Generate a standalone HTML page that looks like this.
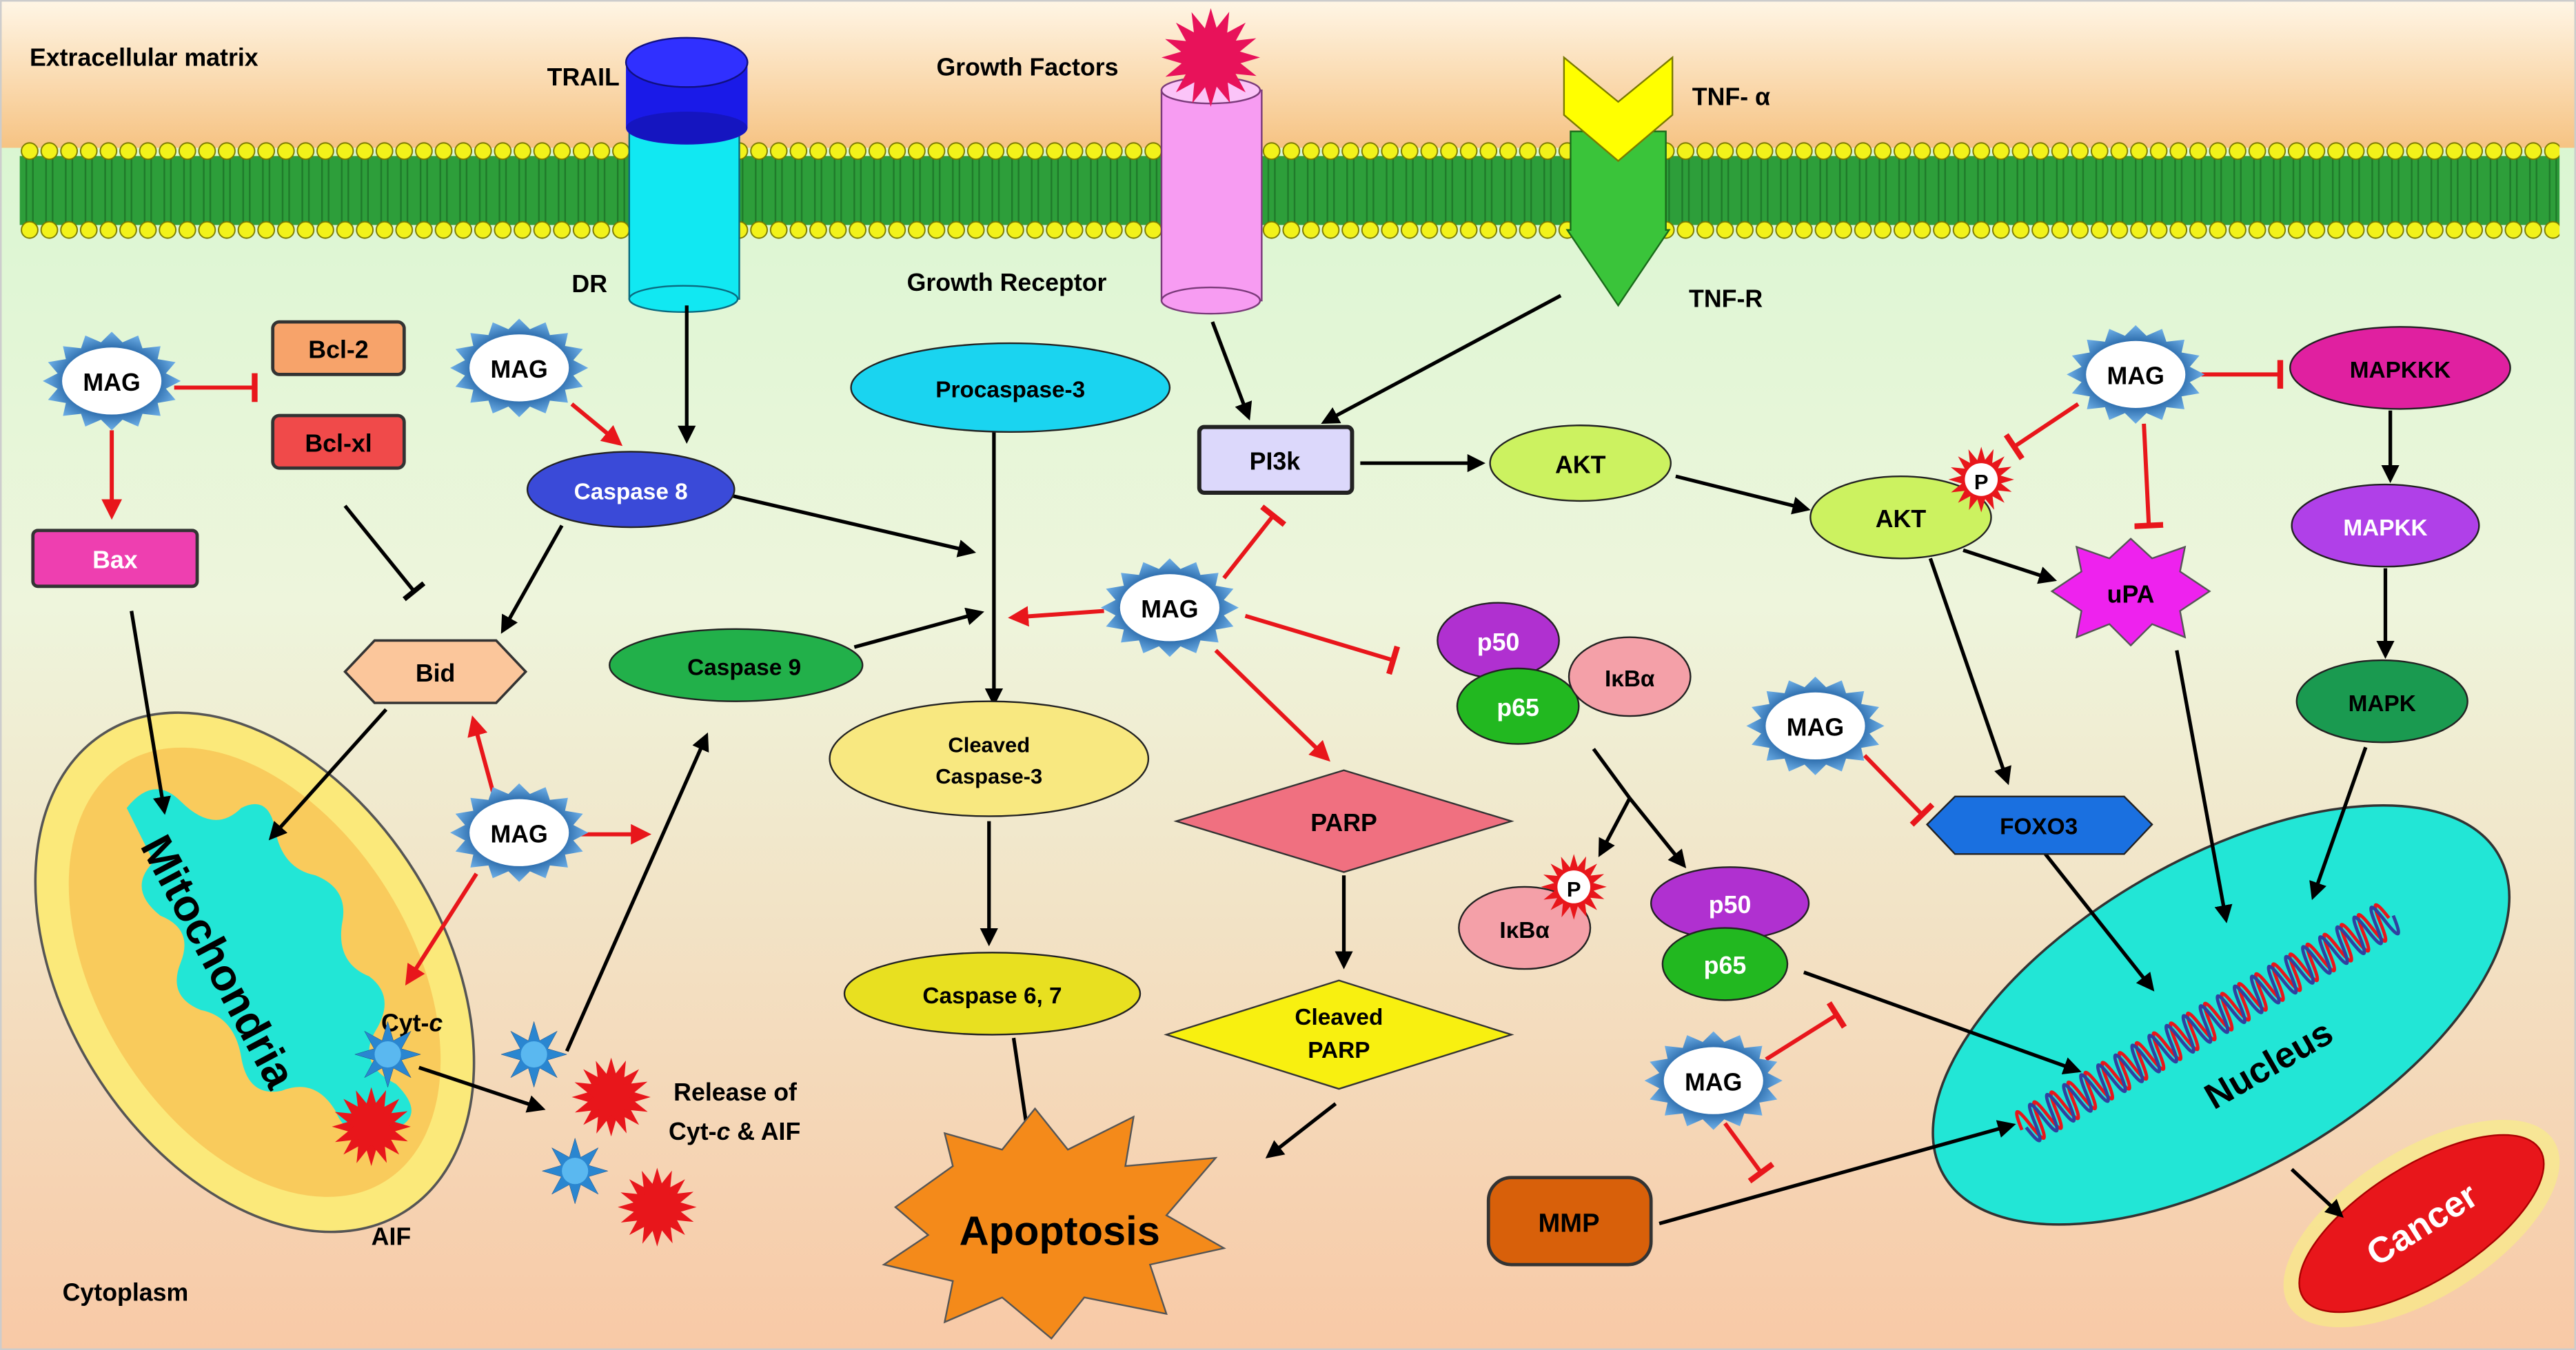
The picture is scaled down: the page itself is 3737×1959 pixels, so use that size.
<!DOCTYPE html>
<html><head><meta charset="utf-8"><style>
html,body{margin:0;padding:0;background:#fff}
svg{display:block}
text{font-family:"Liberation Sans",sans-serif;font-weight:bold}
</style></head><body>
<svg width="3737" height="1959" viewBox="0 0 1568 822" xmlns="http://www.w3.org/2000/svg">
<defs>
<linearGradient id="top" x1="0" y1="0" x2="0" y2="1"><stop offset="0" stop-color="#fff6e6"/><stop offset="1" stop-color="#f6c383"/></linearGradient>
<linearGradient id="cyto" x1="0" y1="0" x2="0" y2="1"><stop offset="0" stop-color="#d4f7cf"/><stop offset="0.45" stop-color="#eef5dc"/><stop offset="1" stop-color="#f8c9a6"/></linearGradient>
<pattern id="lip" x="0" y="86" width="12" height="60" patternUnits="userSpaceOnUse"><rect x="0" y="9" width="12" height="42" fill="#2d9e3a"/><line x1="4" y1="9" x2="4" y2="51" stroke="#1f7a2a" stroke-width="1"/><line x1="8" y1="9" x2="8" y2="51" stroke="#1f7a2a" stroke-width="1"/><circle cx="6" cy="6" r="5" fill="#f2f21a" stroke="#7a7a00" stroke-width="0.8"/><circle cx="6" cy="54" r="5" fill="#f2f21a" stroke="#7a7a00" stroke-width="0.8"/></pattern>
<radialGradient id="magg"><stop offset="0.6" stop-color="#1f5fa0"/><stop offset="1" stop-color="#6fb0e8"/></radialGradient>
<marker id="ab" viewBox="0 0 10 10" refX="8" refY="5" markerWidth="5" markerHeight="5" orient="auto"><path d="M0,0L10,5L0,10z" fill="#000"/></marker>
<marker id="ar" viewBox="0 0 10 10" refX="8" refY="5" markerWidth="5" markerHeight="5" orient="auto"><path d="M0,0L10,5L0,10z" fill="#e8161b"/></marker>
<marker id="tr" viewBox="0 0 4 20" refX="2" refY="10" markerWidth="2" markerHeight="7" orient="auto"><rect x="0" y="0" width="4" height="20" fill="#e8161b"/></marker>
<marker id="tb" viewBox="0 0 4 20" refX="2" refY="10" markerWidth="2" markerHeight="7" orient="auto"><rect x="0" y="0" width="4" height="20" fill="#000"/></marker>
<g id="star"><polygon fill="url(#magg)" points="100,0 78.5,15.6 92.4,38.3 66.5,44.5 70.7,70.7 44.5,66.5 38.3,92.4 15.6,78.5 0,100 -15.6,78.5 -38.3,92.4 -44.5,66.5 -70.7,70.7 -66.5,44.5 -92.4,38.3 -78.5,15.6 -100,0 -78.5,-15.6 -92.4,-38.3 -66.5,-44.5 -70.7,-70.7 -44.5,-66.5 -38.3,-92.4 -15.6,-78.5 0,-100 15.6,-78.5 38.3,-92.4 44.5,-66.5 70.7,-70.7 66.5,-44.5 92.4,-38.3 78.5,-15.6"/><ellipse cx="0" cy="0" rx="72" ry="68" fill="#fff"/></g>
<g id="s8"><polygon points="100,0 41.6,17.2 70.7,70.7 17.2,41.6 0,100 -17.2,41.6 -70.7,70.7 -41.6,17.2 -100,0 -41.6,-17.2 -70.7,-70.7 -17.2,-41.6 0,-100 17.2,-41.6 70.7,-70.7 41.6,-17.2"/></g>
</defs>
<rect width="1568" height="822" fill="url(#cyto)"/>
<rect width="1568" height="90" fill="url(#top)"/>
<rect x="12" y="86" width="1546" height="60" fill="url(#lip)"/>
<rect x="0.5" y="0.5" width="1567" height="821" fill="none" stroke="#ccc"/>
<text x="18" y="40" font-size="15">Extracellular matrix</text>
<text x="38" y="792" font-size="15">Cytoplasm</text>

<!-- receptors -->
<rect x="383" y="60" width="67" height="122" fill="#11e8f2" stroke="#0a6b80"/><ellipse cx="416" cy="182" rx="33" ry="8" fill="#11e8f2" stroke="#0a6b80"/>
<rect x="381" y="38" width="74" height="40" fill="#1a1ae8"/><ellipse cx="418" cy="78" rx="37" ry="10" fill="#1515c0"/><ellipse cx="418" cy="38" rx="37" ry="15" fill="#3030ff" stroke="#101080"/>
<text x="333" y="52" font-size="15">TRAIL</text><text x="348" y="178" font-size="15">DR</text>
<rect x="707" y="55" width="61" height="128" fill="#f79cf2" stroke="#7a3a7a"/><ellipse cx="737" cy="183" rx="30" ry="8" fill="#f79cf2" stroke="#7a3a7a"/><ellipse cx="737" cy="55" rx="30" ry="8" fill="#fbc4f8" stroke="#7a3a7a"/>
<use href="#s8" transform="translate(737,35) scale(0.3)" fill="#e8125a"/>
<use href="#s8" transform="translate(737,35) rotate(22) scale(0.3)" fill="#e8125a"/>
<text x="570" y="46" font-size="15">Growth Factors</text><text x="552" y="177" font-size="15">Growth Receptor</text>
<polygon points="956,80 1014,80 1014,140 1016,140 985,186 954,140 956,140" fill="#3ac43a" stroke="#1a6a1a"/>
<polygon points="952,35 985,62 1018,35 1018,70 985,98 952,70" fill="#ffff00" stroke="#7a7a00"/>
<text x="1030" y="64" font-size="15">TNF- α</text><text x="1028" y="187" font-size="15">TNF-R</text>

<!-- mitochondria -->
<ellipse cx="155" cy="592" rx="115" ry="172" transform="rotate(-32 155 592)" fill="#fbe97a" stroke="#555" stroke-width="1.5"/>
<ellipse cx="155" cy="592" rx="95" ry="150" transform="rotate(-32 155 592)" fill="#f8b848" opacity="0.6"/>
<g transform="translate(155,592) scale(0.82) translate(-155,-592)">
<path d="M60,470 q20,-25 40,-5 q25,25 45,5 q20,-10 25,15 q5,30 30,35 q25,10 20,35 q-5,30 20,40 q20,15 5,40 q-15,25 15,40 q25,25 -5,35 q-30,10 -40,-15 q-15,-25 -40,-15 q-25,5 -30,-25 q-5,-30 -30,-35 q-25,-10 -15,-35 q10,-25 -15,-35 q-25,-20 -5,-40 z" fill="#22e6d6"/>
</g>
<text x="0" y="0" font-size="27" transform="translate(85,515) rotate(62)">Mitochondria</text>

<!-- nucleus -->
<g transform="translate(1352,618) rotate(-30)">
<ellipse cx="0" cy="0" rx="195" ry="95" fill="#22e6d6" stroke="#333" stroke-width="1.5"/>
<path d="M-140 0 q3 -22 6 0 t6 0 t6 0 t6 0 t6 0 t6 0 t6 0 t6 0 t6 0 t6 0 t6 0 t6 0 t6 0 t6 0 t6 0 t6 0 t6 0 t6 0 t6 0 t6 0 t6 0 t6 0 t6 0 t6 0 t6 0 t6 0 t6 0 t6 0 t6 0 t6 0 t6 0 t6 0 t6 0 t6 0 t6 0 t6 0 t6 0 t6 0 t6 0 t6 0 t6 0 t6 0 t6 0" fill="none" stroke="#e8161b" stroke-width="2"/>
<path d="M-137 0 q3 22 6 0 t6 0 t6 0 t6 0 t6 0 t6 0 t6 0 t6 0 t6 0 t6 0 t6 0 t6 0 t6 0 t6 0 t6 0 t6 0 t6 0 t6 0 t6 0 t6 0 t6 0 t6 0 t6 0 t6 0 t6 0 t6 0 t6 0 t6 0 t6 0 t6 0 t6 0 t6 0 t6 0 t6 0 t6 0 t6 0 t6 0 t6 0 t6 0 t6 0 t6 0 t6 0 t6 0" fill="none" stroke="#3040a0" stroke-width="2"/>
<text x="10" y="48" font-size="22" text-anchor="middle">Nucleus</text>
</g>
<g transform="translate(1474,745) rotate(-32)">
<ellipse cx="0" cy="0" rx="95" ry="45" fill="#f8f080" opacity="0.6"/>
<ellipse cx="0" cy="0" rx="85" ry="35" fill="#e8161b" stroke="#a00"/>
<text x="0" y="8" font-size="22" text-anchor="middle" fill="#fff">Cancer</text>
</g>

<!-- connectors black -->
<g stroke="#000" stroke-width="2.2" fill="none" marker-end="url(#ab)">
<line x1="418" y1="186" x2="418" y2="268"/>
<line x1="342" y1="320" x2="306" y2="384"/>
<line x1="446" y1="302" x2="592" y2="336"/>
<line x1="520" y1="394" x2="597" y2="373"/>
<line x1="605" y1="262" x2="605" y2="428"/>
<line x1="602" y1="500" x2="602" y2="574"/>
<line x1="617" y1="632" x2="627" y2="700"/>
<line x1="813" y1="672" x2="772" y2="704"/>
<line x1="818" y1="533" x2="818" y2="588"/>
<line x1="80" y1="372" x2="100" y2="494"/>
<line x1="235" y1="432" x2="165" y2="510"/>
<line x1="255" y1="650" x2="330" y2="675"/>
<line x1="345" y1="640" x2="430" y2="448"/>
<line x1="738" y1="196" x2="760" y2="254"/>
<line x1="950" y1="180" x2="806" y2="257"/>
<line x1="828" y1="282" x2="902" y2="282"/>
<line x1="1020" y1="290" x2="1100" y2="310"/>
<line x1="1195" y1="335" x2="1250" y2="353"/>
<line x1="1175" y1="340" x2="1222" y2="476"/>
<line x1="1455" y1="250" x2="1455" y2="292"/>
<line x1="1452" y1="346" x2="1452" y2="399"/>
<line x1="1440" y1="455" x2="1408" y2="546"/>
<line x1="1325" y1="396" x2="1355" y2="560"/>
<line x1="1245" y1="520" x2="1310" y2="602"/>
<line x1="992" y1="486" x2="974" y2="520"/>
<line x1="992" y1="486" x2="1025" y2="527"/>
<line x1="1098" y1="592" x2="1265" y2="652"/>
<line x1="1010" y1="745" x2="1225" y2="685"/>
<line x1="1395" y1="712" x2="1425" y2="740"/>
</g>
<line x1="970" y1="456" x2="992" y2="486" stroke="#000" stroke-width="2.2"/>
<line x1="210" y1="308" x2="252" y2="360" stroke="#000" stroke-width="2.2" marker-end="url(#tb)"/>

<!-- red connectors -->
<g stroke="#e8161b" stroke-width="2.5" fill="none">
<line x1="68" y1="262" x2="68" y2="314" marker-end="url(#ar)"/>
<line x1="106" y1="236" x2="155" y2="236" marker-end="url(#tr)"/>
<line x1="348" y1="246" x2="377" y2="270" marker-end="url(#ar)"/>
<line x1="672" y1="372" x2="616" y2="376" marker-end="url(#ar)"/>
<line x1="745" y1="352" x2="775" y2="314" marker-end="url(#tr)"/>
<line x1="758" y1="375" x2="848" y2="402" marker-end="url(#tr)"/>
<line x1="740" y1="396" x2="808" y2="462" marker-end="url(#ar)"/>
<line x1="300" y1="482" x2="288" y2="438" marker-end="url(#ar)"/>
<line x1="352" y1="508" x2="394" y2="508" marker-end="url(#ar)"/>
<line x1="290" y1="532" x2="248" y2="598" marker-end="url(#ar)"/>
<line x1="1265" y1="246" x2="1226" y2="272" marker-end="url(#tr)"/>
<line x1="1305" y1="258" x2="1308" y2="320" marker-end="url(#tr)"/>
<line x1="1340" y1="228" x2="1388" y2="228" marker-end="url(#tr)"/>
<line x1="1135" y1="460" x2="1170" y2="496" marker-end="url(#tr)"/>
<line x1="1075" y1="645" x2="1118" y2="618" marker-end="url(#tr)"/>
<line x1="1050" y1="684" x2="1072" y2="714" marker-end="url(#tr)"/>
</g>

<text x="232" y="628" font-size="15">Cyt-<tspan font-style="italic">c</tspan></text>
<text x="226" y="758" font-size="15">AIF</text>
<text x="410" y="670" font-size="15">Release of</text>
<text x="407" y="694" font-size="15">Cyt-<tspan font-style="italic">c</tspan> &amp; AIF</text>
<g fill="#2a86d0" stroke="#1a4a80"><use href="#s8" transform="translate(236,642) scale(0.2)"/><use href="#s8" transform="translate(325,642) scale(0.2)"/><use href="#s8" transform="translate(350,713) scale(0.2)"/></g>
<g fill="#5ab8f0"><circle cx="236" cy="642" r="8"/><circle cx="325" cy="642" r="8"/><circle cx="350" cy="713" r="8"/></g>
<g fill="#e8161b"><use href="#s8" transform="translate(226,686) scale(0.24)"/><use href="#s8" transform="translate(226,686) rotate(22) scale(0.24)"/><use href="#s8" transform="translate(372,668) scale(0.24)"/><use href="#s8" transform="translate(372,668) rotate(22) scale(0.24)"/><use href="#s8" transform="translate(400,735) scale(0.24)"/><use href="#s8" transform="translate(400,735) rotate(22) scale(0.24)"/></g>

<!-- boxes -->
<rect x="166" y="196" width="80" height="32" rx="4" fill="#f7a36a" stroke="#333" stroke-width="2"/><text x="206" y="218" font-size="15" text-anchor="middle">Bcl-2</text>
<rect x="166" y="253" width="80" height="32" rx="4" fill="#f04a4a" stroke="#333" stroke-width="2"/><text x="206" y="275" font-size="15" text-anchor="middle">Bcl-xl</text>
<rect x="20" y="323" width="100" height="34" rx="3" fill="#ee3fb0" stroke="#333" stroke-width="2"/><text x="70" y="346" font-size="15" text-anchor="middle" fill="#fff">Bax</text>
<polygon points="210,409 228,390 302,390 320,409 302,428 228,428" fill="#fbc69b" stroke="#333" stroke-width="1.5"/><text x="265" y="415" font-size="15" text-anchor="middle">Bid</text>
<ellipse cx="384" cy="298" rx="63" ry="23" fill="#3a4ad8" stroke="#222"/><text x="384" y="304" font-size="14" text-anchor="middle" fill="#fff">Caspase 8</text>
<ellipse cx="448" cy="405" rx="77" ry="22" fill="#22b04a" stroke="#222"/><text x="453" y="411" font-size="14" text-anchor="middle">Caspase 9</text>
<ellipse cx="615" cy="236" rx="97" ry="27" fill="#1ad4f0" stroke="#222"/><text x="615" y="242" font-size="14" text-anchor="middle">Procaspase-3</text>
<ellipse cx="602" cy="462" rx="97" ry="35" fill="#f8e880" stroke="#222"/><text x="602" y="458" font-size="13" text-anchor="middle">Cleaved</text><text x="602" y="477" font-size="13" text-anchor="middle">Caspase-3</text>
<ellipse cx="604" cy="605" rx="90" ry="25" fill="#e8e020" stroke="#222"/><text x="604" y="611" font-size="14" text-anchor="middle">Caspase 6, 7</text>
<polygon points="545,735 580,710 575,690 610,700 630,675 650,700 690,680 685,710 740,705 710,740 745,760 700,770 710,800 660,790 640,815 610,790 575,805 580,780 538,770 565,752" fill="#f48a1a" stroke="#555"/>
<text x="645" y="758" font-size="25" text-anchor="middle">Apoptosis</text>
<rect x="730" y="260" width="93" height="40" rx="3" fill="#dcd8fb" stroke="#222" stroke-width="2.5"/><text x="776" y="286" font-size="15" text-anchor="middle">PI3k</text>
<ellipse cx="962" cy="282" rx="55" ry="23" fill="#ccf260" stroke="#222"/><text x="962" y="288" font-size="15" text-anchor="middle">AKT</text>
<ellipse cx="1157" cy="315" rx="55" ry="25" fill="#ccf260" stroke="#222"/><text x="1157" y="321" font-size="15" text-anchor="middle">AKT</text>
<use href="#s8" transform="translate(1206,292) scale(0.2)" fill="#e8161b"/><use href="#s8" transform="translate(1206,292) rotate(22) scale(0.2)" fill="#e8161b"/><circle cx="1206" cy="292" r="10" fill="#fff"/><text x="1206" y="298" font-size="13" text-anchor="middle">P</text>
<polygon points="1297,328 1310,340 1330,333 1327,348 1345,360 1327,372 1330,388 1310,380 1297,393 1284,380 1264,388 1267,372 1249,360 1267,348 1264,333 1284,340" fill="#ee22ee" stroke="#555"/><text x="1297" y="367" font-size="15" text-anchor="middle">uPA</text>
<ellipse cx="1461" cy="224" rx="67" ry="25" fill="#e020a0" stroke="#222"/><text x="1461" y="230" font-size="14" text-anchor="middle">MAPKKK</text>
<ellipse cx="1452" cy="320" rx="57" ry="25" fill="#b040e8" stroke="#222"/><text x="1452" y="326" font-size="14" text-anchor="middle" fill="#fff">MAPKK</text>
<ellipse cx="1450" cy="427" rx="52" ry="25" fill="#1a9a50" stroke="#222"/><text x="1450" y="433" font-size="14" text-anchor="middle">MAPK</text>
<ellipse cx="912" cy="390" rx="37" ry="23" fill="#b030d0" stroke="#222"/><text x="912" y="396" font-size="15" text-anchor="middle" fill="#fff">p50</text>
<ellipse cx="924" cy="430" rx="37" ry="23" fill="#22b820" stroke="#222"/><text x="924" y="436" font-size="15" text-anchor="middle" fill="#fff">p65</text>
<ellipse cx="992" cy="412" rx="37" ry="24" fill="#f4a0a8" stroke="#222"/><text x="992" y="418" font-size="14" text-anchor="middle">IκBα</text>
<polygon points="716,500 818,469 920,500 818,531" fill="#f07080" stroke="#333"/><text x="818" y="506" font-size="15" text-anchor="middle">PARP</text>
<polygon points="710,630 815,597 920,630 815,663" fill="#f8f010" stroke="#333"/><text x="815" y="624" font-size="14" text-anchor="middle">Cleaved</text><text x="815" y="644" font-size="14" text-anchor="middle">PARP</text>
<polygon points="1173,502 1190,485 1293,485 1310,502 1293,520 1190,520" fill="#1a70e0" stroke="#222"/><text x="1241" y="508" font-size="14" text-anchor="middle">FOXO3</text>
<ellipse cx="928" cy="565" rx="40" ry="25" fill="#f4a0a8" stroke="#222"/><text x="928" y="571" font-size="14" text-anchor="middle">IκBα</text>
<use href="#s8" transform="translate(958,540) scale(0.2)" fill="#e8161b"/><use href="#s8" transform="translate(958,540) rotate(22) scale(0.2)" fill="#e8161b"/><circle cx="958" cy="540" r="10" fill="#fff"/><text x="958" y="546" font-size="13" text-anchor="middle">P</text>
<ellipse cx="1053" cy="550" rx="48" ry="22" fill="#b030d0" stroke="#222"/><text x="1053" y="556" font-size="15" text-anchor="middle" fill="#fff">p50</text>
<ellipse cx="1050" cy="587" rx="38" ry="22" fill="#22b820" stroke="#222"/><text x="1050" y="593" font-size="15" text-anchor="middle" fill="#fff">p65</text>
<rect x="906" y="717" width="99" height="53" rx="14" fill="#d8600a" stroke="#333" stroke-width="2"/><text x="955" y="750" font-size="16" text-anchor="middle">MMP</text>

<!-- MAG -->
<g font-size="15">
<use href="#star" transform="translate(68,232) scale(0.42,0.3)"/><text x="68" y="238" text-anchor="middle">MAG</text>
<use href="#star" transform="translate(316,224) scale(0.42,0.3)"/><text x="316" y="230" text-anchor="middle">MAG</text>
<use href="#star" transform="translate(712,370) scale(0.42,0.3)"/><text x="712" y="376" text-anchor="middle">MAG</text>
<use href="#star" transform="translate(1300,228) scale(0.42,0.3)"/><text x="1300" y="234" text-anchor="middle">MAG</text>
<use href="#star" transform="translate(316,507) scale(0.42,0.3)"/><text x="316" y="513" text-anchor="middle">MAG</text>
<use href="#star" transform="translate(1105,442) scale(0.42,0.3)"/><text x="1105" y="448" text-anchor="middle">MAG</text>
<use href="#star" transform="translate(1043,658) scale(0.42,0.3)"/><text x="1043" y="664" text-anchor="middle">MAG</text>
</g>
</svg>
</body></html>
